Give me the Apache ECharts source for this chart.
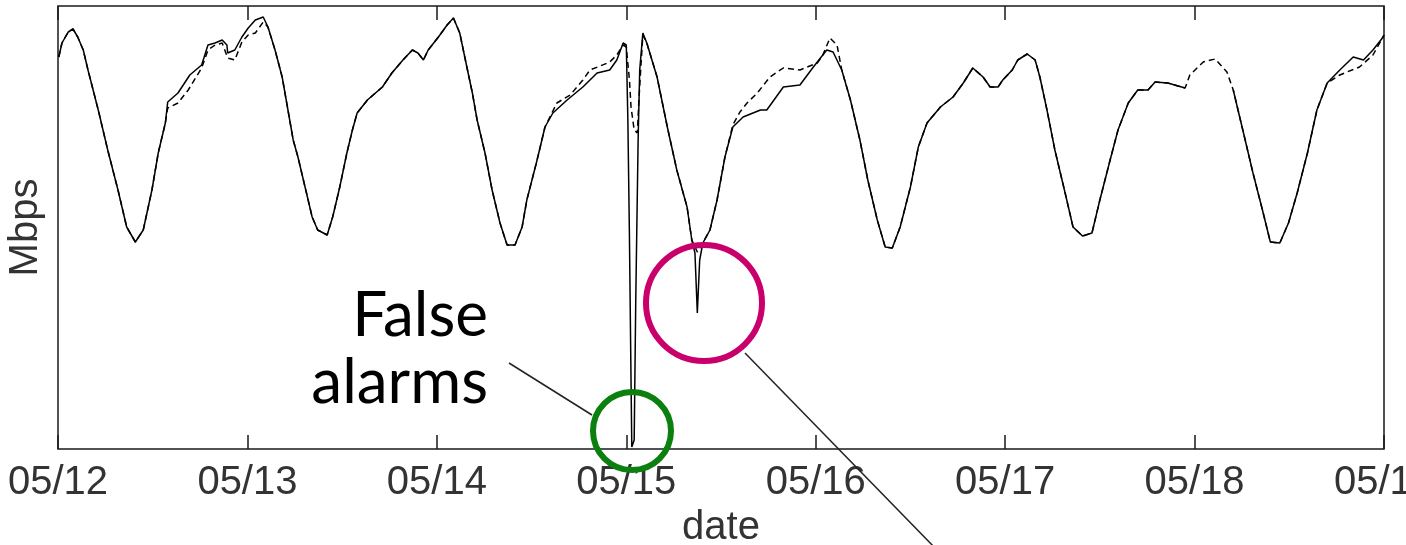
<!DOCTYPE html>
<html>
<head>
<meta charset="utf-8">
<script src="https://cdn.jsdelivr.net/npm/echarts@6/dist/echarts.min.js"></script>
<style>
html,body{margin:0;padding:0;background:#fff;}
#chart{width:1406px;height:545px;}
</style>
</head>
<body>
<div id="chart"></div>
<script>
// x: hours since 05/12 00:00, y: Mbps (relative units)
const tickLabels = ['05/12','05/13','05/14','05/15','05/16','05/17','05/18','05/19'];

const hoursSolid = [0.1,0.5,1.3,1.9,2.5,3.2,3.8,5.1,6.3,7.6,8.7,9.8,10.8,11.9,12.7,13.6,13.9,15.2,16.7,18.2,19.0,19.9,20.8,21.4,21.5,22.4,23.3,24.1,25.0,26.0,26.6,27.5,28.4,29.8,30.4,31.3,32.2,32.9,34.1,34.8,35.7,36.6,37.3,37.9,39.2,41.1,42.3,43.7,44.9,45.6,46.3,46.9,48.2,49.3,50.1,50.9,51.8,52.5,53.1,54.1,55.0,56.0,56.9,57.9,58.8,59.4,60.7,61.7,62.7,64.5,66.5,68.3,69.9,70.8,71.6,72.0,72.2,72.4,72.6,72.7,73.0,73.2,73.5,73.7,74.1,74.6,75.9,77.2,78.4,79.7,80.3,80.7,81.0,81.3,81.7,82.6,83.5,84.5,85.5,86.8,89.0,89.8,91.9,94.0,95.7,97.4,98.2,99.3,100.4,101.6,102.6,103.8,104.8,105.7,106.7,108.0,109.0,110.1,111.8,113.4,114.7,115.9,117.2,118.1,119.1,119.7,120.9,121.6,122.8,123.8,124.4,125.3,126.3,127.6,128.6,129.8,131.0,132.0,133.3,134.3,135.6,136.8,138.1,139.0,140.6,142.8,145.5,148.9,150.2,151.4,152.6,153.6,154.8,155.9,157.0,158.3,159.5,160.8,162.4,164.1,165.4,166.6,167.8,168.0];
const mbpsSolid = [392,406,417,420,412,399,379,339,299,259,222,207,219,259,296,326,347,356,374,384,404,406,409,404,396,399,412,421,429,432,422,399,372,309,292,262,232,219,214,232,262,296,319,336,349,362,376,389,399,396,389,399,412,424,431,416,382,356,329,296,259,226,204,204,222,249,289,322,336,349,362,376,379,389,406,404,329,212,69,2,9,149,309,379,416,406,372,322,279,242,209,196,136,189,206,219,249,292,322,332,339,339,362,364,382,399,397,379,349,309,269,229,202,201,222,262,302,326,342,352,366,381,372,362,362,369,379,389,395,389,372,339,299,256,222,213,216,249,289,319,346,359,359,367,366,361,null,359,316,276,239,207,206,226,256,296,339,366,379,392,389,399,411,414];

const hoursDashed = [0.1,0.5,1.3,1.9,2.5,3.2,3.8,5.1,6.3,7.6,8.7,9.8,10.8,11.9,12.7,13.6,13.9,15.2,16.5,18.2,19.0,19.9,20.8,21.5,22.4,23.3,24.1,25.0,26.0,26.6,27.5,28.4,29.8,30.4,31.3,32.2,32.9,34.1,34.8,35.7,36.6,37.3,37.9,39.2,41.1,42.3,43.7,44.9,45.6,46.3,46.9,48.2,49.3,50.1,50.9,51.8,52.5,53.1,54.1,55.0,56.0,56.9,57.9,58.8,59.4,60.7,61.7,63.2,64.9,66.5,67.4,68.7,69.9,70.8,71.6,72.0,72.4,72.6,73.0,73.4,73.6,73.9,74.1,74.6,75.9,77.2,78.4,79.7,80.3,81.0,81.7,82.6,83.5,84.5,85.5,86.4,87.3,88.6,90.2,91.9,94.0,96.2,96.9,97.8,98.7,99.3,100.4,101.6,102.6,103.8,104.8,105.7,106.7,108.0,109.0,110.1,111.8,113.4,114.7,115.9,117.2,118.1,119.1,119.7,120.9,121.6,122.8,123.8,124.4,125.3,126.3,127.6,128.6,129.8,131.0,132.0,133.3,134.3,135.6,136.8,138.1,139.0,140.6,142.8,143.4,145.1,146.6,148.1,148.9,150.2,151.4,152.6,153.6,154.8,155.9,157.0,158.3,159.5,160.8,162.4,163.3,164.9,166.6,168.0];
const mbpsDashed = [392,406,417,420,412,399,379,339,299,259,222,207,219,259,296,326,341,346,359,381,399,404,406,391,389,407,414,416,427,422,399,372,309,292,262,232,219,214,232,262,296,319,336,349,362,376,389,399,396,389,399,412,424,431,416,382,356,329,296,259,226,204,204,222,249,289,322,346,354,369,379,383,387,394,404,402,369,342,319,316,349,389,414,406,372,322,279,242,209,197,206,219,249,292,324,337,346,356,372,381,379,386,394,411,404,379,349,309,269,229,202,201,222,262,302,326,342,352,366,381,372,362,362,369,379,389,395,389,372,339,299,256,222,213,216,249,289,319,346,359,359,367,366,361,374,387,390,377,359,316,276,239,207,206,226,256,296,339,366,374,377,382,394,414];

const zip = (xs, ys) => xs.map((x, i) => [x, ys[i]]);

const chart = echarts.init(document.getElementById('chart'), null, {renderer: 'canvas'});
const labelFont = '"Liberation Sans", Arial, sans-serif';

chart.setOption({
  animation: false,
  backgroundColor: '#fff',
  grid: {left: 58, right: 22, top: 6, bottom: 96, outerBoundsMode: 'none', containLabel: false,
         show: true, borderColor: '#1a1a1a', borderWidth: 1.5, backgroundColor: 'transparent'},
  xAxis: [{
    type: 'value', min: 0, max: 168, interval: 24, position: 'bottom',
    name: 'date', nameLocation: 'middle', nameGap: 55,
    nameTextStyle: {fontFamily: labelFont, fontSize: 40, color: '#333'},
    axisLine: {show: false},
    axisTick: {show: true, inside: true, length: 14, lineStyle: {color: '#1a1a1a', width: 1.5}},
    splitLine: {show: false},
    axisLabel: {
      show: true, margin: 14, fontFamily: labelFont, fontSize: 40, color: '#333',
      showMinLabel: true, showMaxLabel: true, hideOverlap: false,
      formatter: v => tickLabels[Math.round(v / 24)] || ''
    }
  }, {
    type: 'value', min: 0, max: 168, interval: 24, position: 'top',
    axisLine: {show: false},
    axisTick: {show: true, inside: true, length: 14, lineStyle: {color: '#1a1a1a', width: 1.5}},
    splitLine: {show: false},
    axisLabel: {show: false}
  }],
  yAxis: {
    type: 'value', min: 0, max: 443,
    name: 'Mbps', nameLocation: 'middle', nameGap: 12, nameRotate: 90,
    nameTextStyle: {fontFamily: labelFont, fontSize: 40, color: '#333'},
    axisLine: {show: false}, axisTick: {show: false}, axisLabel: {show: false}, splitLine: {show: false}
  },
  series: [{
    type: 'line', xAxisIndex: 0, data: zip(hoursDashed, mbpsDashed), showSymbol: false, connectNulls: false,
    lineStyle: {color: '#000', width: 1.5, type: [6, 4]}, z: 2
  }, {
    type: 'line', xAxisIndex: 0, data: zip(hoursSolid, mbpsSolid), showSymbol: false, connectNulls: false,
    lineStyle: {color: '#000', width: 1.5}, z: 3
  }],
  graphic: [
    {type: 'line', shape: {x1: 509, y1: 363, x2: 592, y2: 415}, style: {stroke: '#222', lineWidth: 1.5}, z: 10},
    {type: 'line', shape: {x1: 745, y1: 353, x2: 937, y2: 550}, style: {stroke: '#222', lineWidth: 1.5}, z: 10},
    {type: 'circle', shape: {cx: 632, cy: 431, r: 39}, style: {fill: 'none', stroke: '#0b800f', lineWidth: 6}, z: 11},
    {type: 'circle', shape: {cx: 704, cy: 303, r: 58}, style: {fill: 'none', stroke: '#c9006b', lineWidth: 6}, z: 11},
    {type: 'text', x: 488, y: 316, style: {text: 'False', font: '400 62px Lato, "Open Sans", sans-serif', fill: '#000', textAlign: 'right', textVerticalAlign: 'middle'}, z: 12},
    {type: 'text', x: 488, y: 383, style: {text: 'alarms', font: '400 62px Lato, "Open Sans", sans-serif', fill: '#000', textAlign: 'right', textVerticalAlign: 'middle'}, z: 12}
  ]
});
</script>
</body>
</html>
